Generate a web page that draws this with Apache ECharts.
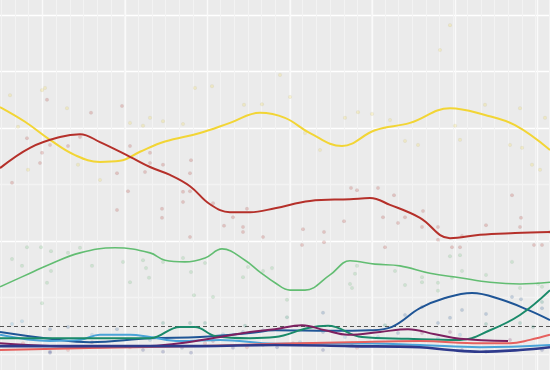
<!DOCTYPE html>
<html><head><meta charset="utf-8">
<script src="https://cdn.jsdelivr.net/npm/echarts@6/dist/echarts.min.js"></script>
<style>html,body{margin:0;padding:0;background:#ebebeb}#c{width:550px;height:370px}</style>
</head><body><div id="c"></div>
<script>
// x = day index, y = percent
const yellowTrend = [[0,43.7],[25,41.1],[50,37.9],[75,35.2],[100,34.0],[120,34.2],[140,35.8],[165,37.6],[200,39.1],[230,40.9],[260,42.7],[285,41.8],[310,39.1],[342,36.8],[375,39.6],[410,40.9],[450,43.5],[485,42.3],[515,40.5],[550,36.1]];
const redTrend = [[0,32.9],[30,36.5],[60,38.4],[80,38.9],[100,37.5],[130,34.9],[150,33.1],[170,31.7],[190,29.7],[210,26.5],[230,25.1],[250,25.1],[275,25.8],[310,27.1],[350,27.4],[370,27.6],[390,26.4],[420,24.1],[450,20.5],[480,21.1],[515,21.4],[550,21.6]];
const greenTrend = [[0,11.9],[30,14.3],[50,15.9],[80,17.9],[115,18.8],[150,17.9],[165,16.6],[185,16.3],[205,17.0],[222,18.6],[245,16.6],[260,14.5],[275,12.6],[290,11.3],[305,11.3],[330,14.0],[350,16.5],[375,15.9],[400,15.6],[430,14.3],[460,13.5],[490,12.7],[520,12.4],[550,12.7]];
const blueTrend = [[0,3.9],[50,2.7],[90,2.1],[150,2.8],[200,3.0],[250,3.7],[275,4.2],[330,4.1],[370,4.2],[392,4.8],[420,8.1],[445,9.9],[472,10.8],[502,9.6],[528,7.8],[550,6.0]];
const lightBlueTrend = [[0,3.4],[50,2.3],[80,2.5],[100,3.4],[130,3.4],[150,3.0],[180,2.3],[220,2.5],[275,1.8],[350,1.9],[420,1.6],[480,1.2],[550,1.6]];
const tealTrend = [[0,2.8],[150,2.8],[180,4.8],[195,4.8],[215,3.2],[250,2.8],[275,3.0],[308,4.6],[328,5.0],[362,3.0],[408,2.7],[460,2.5],[490,4.2],[520,6.9],[550,11.3]];
const purpleTrend = [[0,1.9],[50,1.4],[100,1.2],[150,1.4],[180,1.9],[220,3.0],[250,3.9],[275,4.4],[302,5.1],[325,4.2],[348,3.4],[380,3.9],[408,4.4],[435,3.5],[460,2.7],[508,2.3]];
const salmonTrend = [[0,0.7],[100,1.1],[200,1.4],[275,1.8],[350,2.1],[420,2.3],[480,1.9],[510,1.9],[530,2.5],[550,3.4]];
const navyTrend = [[0,1.4],[100,1.4],[200,1.4],[275,1.6],[350,1.4],[420,1.2],[450,0.7],[480,0.4],[520,0.7],[550,1.2]];

const yellowPolls = [[10,45.8],[18,40.2],[42,46.7],[45,47.1],[28,32.6],[78,33.5],[100,30.8],[130,40.9],[150,41.8],[163,41.2],[195,47.1],[212,47.4],[244,44.1],[262,44.2],[280,49.4],[290,45.5],[305,39.1],[320,36.1],[345,41.8],[358,42.8],[372,42.5],[390,41.4],[405,37.7],[418,37.0],[440,53.8],[450,58.2],[460,37.9],[455,40.4],[485,44.1],[520,43.5],[510,37.0],[522,36.5],[532,33.5],[540,32.6],[545,41.8],[67,43.5],[143,40.4],[183,40.7]];
const redPolls = [[47,45.0],[122,43.9],[91,42.7],[27,38.2],[50,37.0],[68,36.8],[80,38.4],[42,35.6],[40,33.8],[130,36.8],[150,35.6],[163,33.5],[150,33.8],[117,32.0],[145,32.2],[190,32.0],[183,28.7],[191,34.3],[12,30.3],[128,28.8],[117,25.5],[183,26.9],[190,28.8],[162,25.7],[162,24.1],[190,20.7],[233,24.2],[243,22.5],[243,21.6],[247,25.7],[224,22.7],[263,20.7],[213,26.7],[351,29.4],[357,29.0],[378,29.4],[394,28.1],[344,23.5],[303,22.1],[324,21.6],[302,19.3],[324,19.8],[383,24.2],[398,23.2],[405,24.2],[423,25.3],[422,22.5],[438,22.5],[438,20.2],[452,18.9],[460,18.9],[462,20.9],[486,22.8],[512,28.1],[521,24.1],[520,22.5],[534,19.3],[542,19.3],[550,21.6],[385,18.9]];
const greenPolls = [[12,16.8],[27,18.9],[41,18.9],[22,15.6],[51,18.2],[51,14.7],[47,12.6],[42,9.0],[68,17.9],[80,18.8],[92,15.6],[123,16.3],[130,12.7],[143,16.6],[146,15.2],[149,13.5],[163,16.3],[183,17.0],[191,14.5],[194,10.4],[205,16.1],[213,10.1],[243,13.6],[248,15.4],[263,14.7],[272,15.2],[287,9.6],[350,12.4],[352,11.7],[355,14.2],[357,15.6],[395,14.7],[405,12.2],[422,12.7],[422,13.6],[438,12.6],[452,13.5],[462,14.7],[486,14.0],[512,16.3],[520,11.7],[538,12.4],[542,11.9],[438,11.2],[450,17.3],[460,17.5]];
const bluePolls = [[50,4.4],[68,4.8],[117,4.4],[243,3.9],[263,4.2],[323,3.9],[398,3.7],[405,6.9],[422,8.3],[438,5.5],[450,6.4],[462,7.8],[486,7.1],[512,10.1],[521,9.7],[542,8.1],[323,7.3]];
const lightBluePolls = [[12,5.3],[22,5.8],[92,3.4],[223,3.5],[345,3.0],[378,3.0],[438,2.8],[460,3.4],[150,2.5],[300,2.1]];
const tealPolls = [[163,5.5],[190,5.5],[205,5.5],[245,5.0],[287,6.5],[385,5.1],[486,5.3],[520,5.5],[533,4.8],[542,9.2]];
const purplePolls = [[80,2.5],[92,2.1],[183,2.1],[213,2.3],[352,1.9],[422,3.7],[450,3.9],[510,2.5]];
const salmonPolls = [[23,1.9],[68,0.7],[130,1.2],[205,1.9],[247,1.2],[263,1.6],[293,1.9],[357,1.1]];
const navyPolls = [[50,0.4],[50,0.2],[143,0.7],[163,0.4],[182,1.1],[191,0.2],[233,1.1],[277,1.2],[323,0.7],[462,0.7],[486,0.4],[542,0.7]];
const threshold = 5;

const parties = [
  {trend: yellowTrend, polls: yellowPolls, color: '#f2d535', w: 2},
  {trend: redTrend, polls: redPolls, color: '#b5302a', w: 2},
  {trend: greenTrend, polls: greenPolls, color: '#62bd72', w: 1.6},
  {trend: blueTrend, polls: bluePolls, color: '#1f5596', w: 2},
  {trend: lightBlueTrend, polls: lightBluePolls, color: '#4aa3d8', w: 2},
  {trend: tealTrend, polls: tealPolls, color: '#1a8a6a', w: 2},
  {trend: purpleTrend, polls: purplePolls, color: '#7d2060', w: 2},
  {trend: salmonTrend, polls: salmonPolls, color: '#e6605e', w: 2},
  {trend: navyTrend, polls: navyPolls, color: '#2e3a8c', w: 2.6}
];

const series = [];
parties.forEach(p => {
  series.push({type: 'scatter', data: p.polls, symbolSize: 3.5, silent: true,
    itemStyle: {color: p.color, opacity: 0.22, borderColor: 'rgba(90,90,90,0.45)', borderWidth: 0.5}, z: 2});
});
parties.forEach((p, i) => {
  const s = {type: 'line', data: p.trend, smooth: 0.4, showSymbol: false, silent: true,
    lineStyle: {color: p.color, width: p.w}, z: 3};
  if (i === 0) {
    s.markLine = {silent: true, symbol: 'none', label: {show: false},
      lineStyle: {color: '#555', type: [4, 3], width: 1}, data: [{yAxis: threshold}], z: 1};
  }
  series.push(s);
});

const hidden = {axisLine: {show: false}, axisTick: {show: false}, axisLabel: {show: false}};
const chart = echarts.init(document.getElementById('c'));
chart.setOption({
  animation: false,
  backgroundColor: '#ebebeb',
  grid: [
    {left: 0, right: 0, top: 15, bottom: 16},
    {left: 1.3, right: 0, top: 0, bottom: 0},
    {left: 42.5, right: 0, top: 0, bottom: 0}
  ],
  xAxis: [
    Object.assign({type: 'value', gridIndex: 0, min: 0, max: 550, splitLine: {show: false}}, hidden),
    Object.assign({type: 'value', gridIndex: 1, min: 0, max: 40.05, interval: 1, splitLine: {show: true, lineStyle: {color: '#f3f3f3', width: 1}}}, hidden),
    Object.assign({type: 'value', gridIndex: 2, min: 0, max: 6.1515, interval: 1, splitLine: {show: true, lineStyle: {color: '#fafafa', width: 1.3}}}, hidden)
  ],
  yAxis: [
    Object.assign({type: 'value', gridIndex: 0, min: 0, max: 60, interval: 10, splitLine: {show: true, lineStyle: {color: ['#f6f6f6', '#f3f3f3', '#ffffff', '#f3f3f3', '#ffffff', '#ffffff', '#ffffff'], width: 1.3}}}, hidden),
    {type: 'value', gridIndex: 1, show: false},
    {type: 'value', gridIndex: 2, show: false}
  ],
  series: series
});
</script></body></html>
